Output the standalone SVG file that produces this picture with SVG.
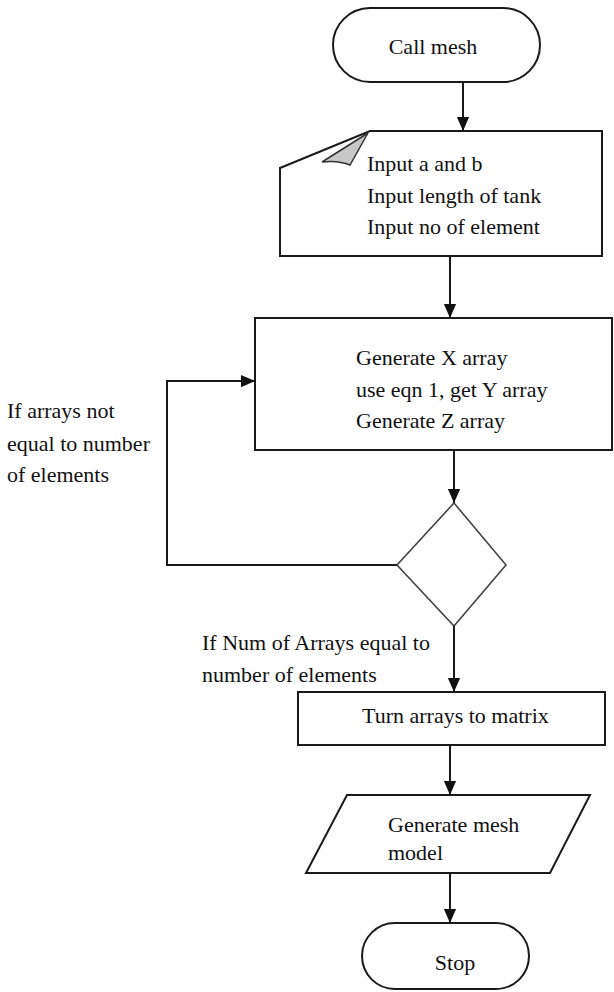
<svg xmlns="http://www.w3.org/2000/svg" width="614" height="992" viewBox="0 0 614 992">
<style>
.shape{fill:#fff;stroke:#1a1a1a;stroke-width:2}
.conn{fill:none;stroke:#1a1a1a;stroke-width:2}
</style>
<defs>
<marker id="arr" markerUnits="userSpaceOnUse" markerWidth="14" markerHeight="18" refX="16" refY="7" viewBox="0 0 16 14" orient="auto">
<path d="M0,0 L16,7 L0,14 Z" fill="#111"/>
</marker>
</defs>
<rect width="614" height="992" fill="#fff"/>
<g font-family="Liberation Serif, DejaVu Serif, Times New Roman, serif" font-size="22" fill="#111">
<g id="start">
<rect class="shape" x="333" y="8" width="207" height="74" rx="37" ry="37"/>
<text x="433" y="54" text-anchor="middle">Call mesh</text>
</g>
<g id="input">
<path class="shape" d="M370,131 L602,131 L602,256 L280,256 L280,168 Z"/>
<path d="M322,162 L368,133 L350,165 Q338,160 322,162 Z" fill="#c8c8c8" stroke="#333" stroke-width="1.5"/>
<text x="367" y="171">Input a and b</text>
<text x="367" y="203">Input length of tank</text>
<text x="367" y="234">Input no of element</text>
</g>
<g id="generate">
<rect class="shape" x="255" y="318" width="357" height="132"/>
<text x="356" y="365">Generate X array</text>
<text x="356" y="397">use eqn 1, get Y array</text>
<text x="356" y="428">Generate Z array</text>
</g>
<g id="decision">
<polygon points="454,503 506,565 454,626 397,565" fill="#fff" stroke="#444" stroke-width="1.6"/>
</g>
<g id="matrix">
<rect class="shape" x="298" y="692" width="307" height="53"/>
<text x="362" y="723">Turn arrays to matrix</text>
</g>
<g id="output">
<polygon class="shape" points="347,795 590,795 550,873 306,873"/>
<text x="388" y="832">Generate mesh</text>
<text x="388" y="860">model</text>
</g>
<g id="stop">
<rect class="shape" x="362" y="923" width="167" height="66" rx="33" ry="33"/>
<text x="455" y="970" text-anchor="middle">Stop</text>
</g>
<g id="labels">
<text x="7" y="418">If arrays not</text>
<text x="7" y="451">equal to number</text>
<text x="7" y="482">of elements</text>
<text x="202" y="650">If Num of Arrays equal to</text>
<text x="202" y="682">number of elements</text>
</g>
</g>
<g id="connectors">
<line class="conn" x1="463" y1="82" x2="463" y2="131" marker-end="url(#arr)"/>
<line class="conn" x1="450" y1="256" x2="450" y2="318" marker-end="url(#arr)"/>
<line class="conn" x1="454" y1="450" x2="454" y2="503" marker-end="url(#arr)"/>
<polyline class="conn" points="397,565 167,565 167,381 255,381" marker-end="url(#arr)"/>
<line class="conn" x1="454" y1="626" x2="454" y2="692" marker-end="url(#arr)"/>
<line class="conn" x1="450" y1="745" x2="450" y2="795" marker-end="url(#arr)"/>
<line class="conn" x1="450" y1="873" x2="450" y2="923" marker-end="url(#arr)"/>
</g>
</svg>
